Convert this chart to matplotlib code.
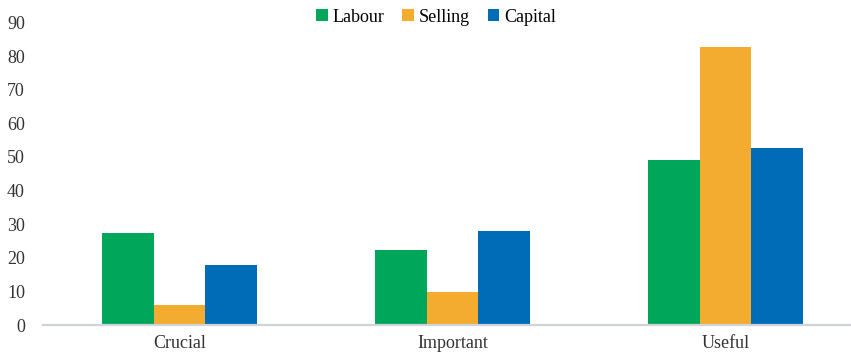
import matplotlib.pyplot as plt
import numpy as np

categories = ["Crucial", "Important", "Useful"]
labour = [27.5, 22.3, 49.0]
selling = [6.0, 9.7, 82.8]
capital = [17.9, 28.0, 52.8]

series = [("Labour", labour, "#00a65a"),
          ("Selling", selling, "#f3ac2f"),
          ("Capital", capital, "#006bb6")]

plt.rcParams["font.family"] = ["Liberation Serif", "DejaVu Serif"]

fig = plt.figure(figsize=(8.51, 3.57), dpi=100)
ax = fig.add_axes([43 / 851, 32 / 357, 808 / 851, 302.5 / 357])

x = np.arange(len(categories))
w = 0.19
for i, (name, vals, col) in enumerate(series):
    ax.bar(x + (i - 1) * w, vals, width=w, color=col, label=name)

ax.set_xlim(-0.5, 2.46)
ax.set_ylim(0, 90)
ax.set_yticks(range(0, 91, 10))
ax.set_xticks(x)
ax.set_xticklabels(categories)
ax.tick_params(axis="both", length=0, labelsize=13, colors="#333333")
ax.tick_params(axis="y", pad=13)
ax.tick_params(axis="x", pad=7)

for s in ["top", "right", "left"]:
    ax.spines[s].set_visible(False)
ax.spines["bottom"].set_color("#d0d4d9")
ax.spines["bottom"].set_linewidth(1.6)

fig.legend(loc="center", bbox_to_anchor=(436 / 851, 1 - 17 / 357), ncol=3,
           frameon=False, fontsize=13, handlelength=0.65, handleheight=0.65,
           handletextpad=0.25, columnspacing=1.0)

fig.savefig("out.png", dpi=100)
